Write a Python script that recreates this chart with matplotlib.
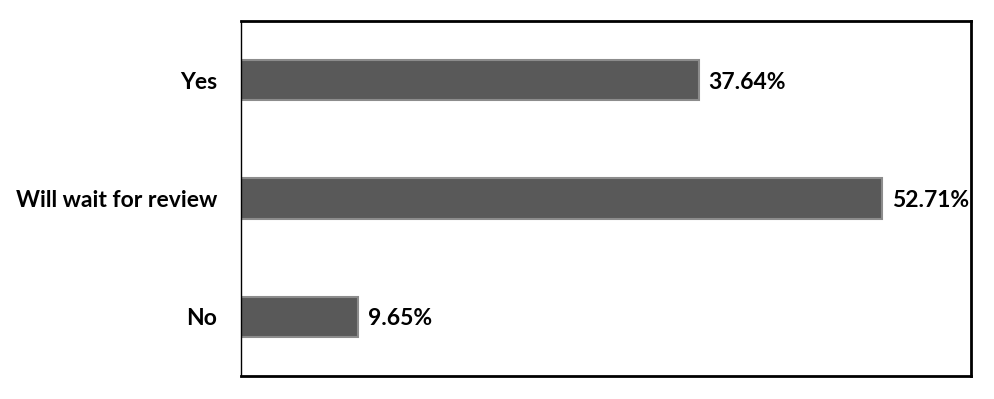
import matplotlib.pyplot as plt

# datos del gráfico
categorias = ["Yes", "Will wait for review", "No"]
porcentajes = [37.64, 52.71, 9.65]
etiquetas = ["37.64%", "52.71%", "9.65%"]

plt.rcParams['font.family'] = ['Lato', 'DejaVu Sans']

fig = plt.figure(figsize=(9.95, 3.99), dpi=100)
ax = fig.add_axes([0.2422, 0.0576, 0.7337, 0.8894])

pos = list(range(len(categorias)))[::-1]
barras = ax.barh(pos, porcentajes, height=0.34, color='#595959',
                 edgecolor='#8c8c8c', linewidth=1.5)

for b, txt in zip(barras, etiquetas):
    ax.annotate(txt, (b.get_width(), b.get_y() + b.get_height() / 2),
                xytext=(7, -1.5), textcoords='offset points',
                ha='left', va='center', fontsize=16.5, fontweight='bold')

ax.set_xlim(0, 60)
ax.set_ylim(-0.5, 2.5)
ax.set_yticks(pos)
ax.set_yticklabels(categorias, fontsize=16.5, fontweight='bold')
ax.tick_params(axis='y', length=0, pad=17)
ax.set_xticks([])

ax.spines['left'].set_linewidth(1.0)
for lado in ['top', 'right', 'bottom']:
    ax.spines[lado].set_linewidth(2.0)

fig.savefig('out.png', dpi=100)
